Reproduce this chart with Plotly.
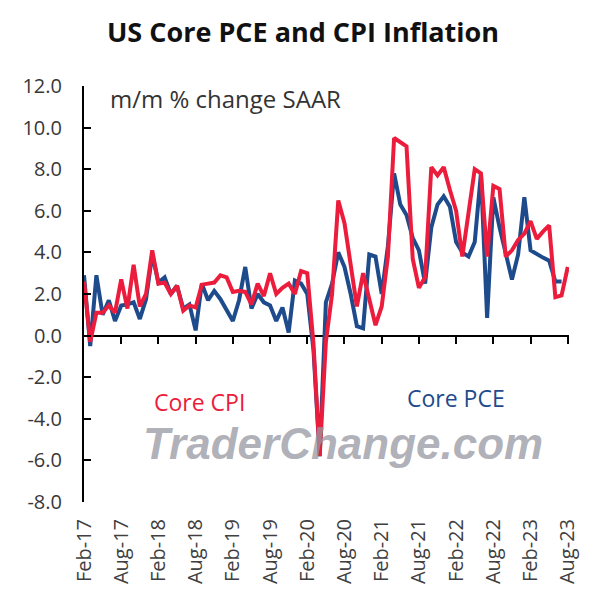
import pandas as pd
import plotly.graph_objects as go

# Months Feb-17 .. Aug-23 (categories)
months = pd.date_range("2017-02-01", "2023-08-01", freq="MS").strftime("%b-%y").tolist()

# Core PCE, m/m % change SAAR (ends Jul-23)
core_pce = [2.9, -0.5, 2.9, 1.0, 1.7, 0.7, 1.45, 1.5, 1.6, 0.8,
            1.75, 3.9, 2.55, 2.8, 2.0, 2.4, 1.3, 1.5, 0.25, 2.5,
            1.7, 2.15, 1.75, 1.2, 0.7, 1.7, 3.3, 1.3, 2.0, 1.6,
            1.45, 0.7, 1.35, 0.15, 2.65, 2.5, 2.0, -0.7, -5.8, 1.6,
            2.5, 4.0, 3.3, 2.0, 0.45, 0.35, 3.9, 3.8, 2.0, 4.3,
            7.8, 6.3, 5.8, 4.7, 4.1, 2.5, 5.2, 6.3, 6.7, 6.2,
            4.5, 4.0, 3.8, 4.5, 7.8, 0.85, 6.65, 5.2, 3.9, 2.7,
            3.9, 6.65, 4.1, 3.9, 3.75, 3.6, 2.6, 2.6, None]

# Core CPI, m/m % change SAAR (ends Aug-23)
core_cpi = [2.6, -0.3, 1.1, 1.1, 1.45, 1.1, 2.7, 1.3, 3.4, 1.4,
            2.0, 4.1, 2.5, 2.55, 2.0, 2.4, 1.2, 1.45, 1.35, 2.45,
            2.5, 2.55, 2.9, 2.8, 2.1, 2.15, 2.1, 1.5, 2.5, 1.9,
            3.0, 2.0, 2.3, 2.5, 2.0, 3.1, 3.0, -0.4, -5.8, -0.3,
            2.0, 6.5, 5.4, 3.5, 1.4, 3.0, 1.7, 0.5, 1.4, 3.8,
            9.5, 9.3, 9.1, 3.7, 2.3, 2.8, 8.1, 7.7, 8.1, 7.0,
            6.0, 3.8, 5.9, 8.0, 7.8, 3.8, 7.2, 7.05, 3.8, 4.1,
            4.6, 4.9, 5.5, 4.65, 5.0, 5.3, 1.85, 1.93, 3.3]

x_ticklabels = months[::6]
x_minor_ticks = months[6::6]
y_ticks = [-8, -6, -4, -2, 0, 2, 4, 6, 8, 10, 12]
y_ticktext = [f"{v:.1f}" for v in y_ticks]

BLUE = "#1E4B8C"
RED = "#EC1C3C"
FONT = "Open Sans"

fig = go.Figure()
fig.add_trace(go.Scatter(x=months, y=core_pce, mode="lines", name="Core PCE",
                         line=dict(color=BLUE, width=4), showlegend=False))
fig.add_trace(go.Scatter(x=months, y=core_cpi, mode="lines", name="Core CPI",
                         line=dict(color=RED, width=4), showlegend=False))
# helper trace so the zero-line tick axis exists
fig.add_trace(go.Scatter(x=[months[0]], y=[None], xaxis="x2", mode="lines",
                         showlegend=False, hoverinfo="skip"))

xr = [0, 78.2]
fig.update_layout(
    width=600, height=602,
    margin=dict(l=84, r=31, t=86, b=100),
    plot_bgcolor="white", paper_bgcolor="white",
    font=dict(family=FONT, color="#3a3a3a"),
    title=dict(text="<b>US Core PCE and CPI Inflation</b>", x=0.505, xref="container",
               y=1 - 33 / 602, yref="container", yanchor="middle", xanchor="center",
               font=dict(family=FONT, size=27, color="#111111")),
    xaxis=dict(type="category", categoryorder="array", categoryarray=months,
               range=xr, showline=False, showgrid=False, zeroline=False,
               ticks="", tickmode="array", tickvals=x_ticklabels, ticktext=x_ticklabels,
               tickangle=-90, tickfont=dict(family=FONT, size=20, color="#404040"),
               ticklabelstandoff=12),
    xaxis2=dict(type="category", categoryorder="array", categoryarray=months,
                overlaying="x", anchor="free", position=0.4, side="bottom",
                range=xr, showline=False, showgrid=False, zeroline=False,
                ticks="outside", ticklen=7, tickwidth=2, tickcolor="black",
                tickmode="array", tickvals=x_minor_ticks, showticklabels=False),
    yaxis=dict(range=[-8, 12], tickmode="array", tickvals=y_ticks, ticktext=y_ticktext,
               ticks="inside", ticklen=7, tickwidth=2, tickcolor="black",
               showline=True, linecolor="black", linewidth=2,
               showgrid=False, zeroline=True, zerolinecolor="black", zerolinewidth=2,
               tickfont=dict(family=FONT, size=20, color="#383838"),
               ticklabelstandoff=16),
)

fig.add_annotation(text="m/m % change SAAR", xref="paper", yref="paper",
                   x=0.049, y=0.971, xanchor="left", yanchor="middle", showarrow=False,
                   font=dict(family=FONT, size=24, color="#333333"))
fig.add_annotation(text="TraderChange.com", xref="paper", yref="paper",
                   x=0.535, y=0.14, xanchor="center", yanchor="middle", showarrow=False,
                   font=dict(family="Liberation Sans, DejaVu Sans, sans-serif",
                             size=44, color="rgba(150,152,162,0.75)", style="italic",
                             weight="bold"))
fig.add_annotation(text="Core CPI", x=11.0, y=-3.2, xanchor="left", yanchor="middle",
                   showarrow=False, font=dict(family=FONT, size=23, color=RED))
fig.add_annotation(text="Core PCE", x=51.8, y=-3.0, xanchor="left", yanchor="middle",
                   showarrow=False, font=dict(family=FONT, size=23, color=BLUE))

fig.write_html("out.html", post_script="document.body.style.margin='0';",
               config={"displayModeBar": False})
